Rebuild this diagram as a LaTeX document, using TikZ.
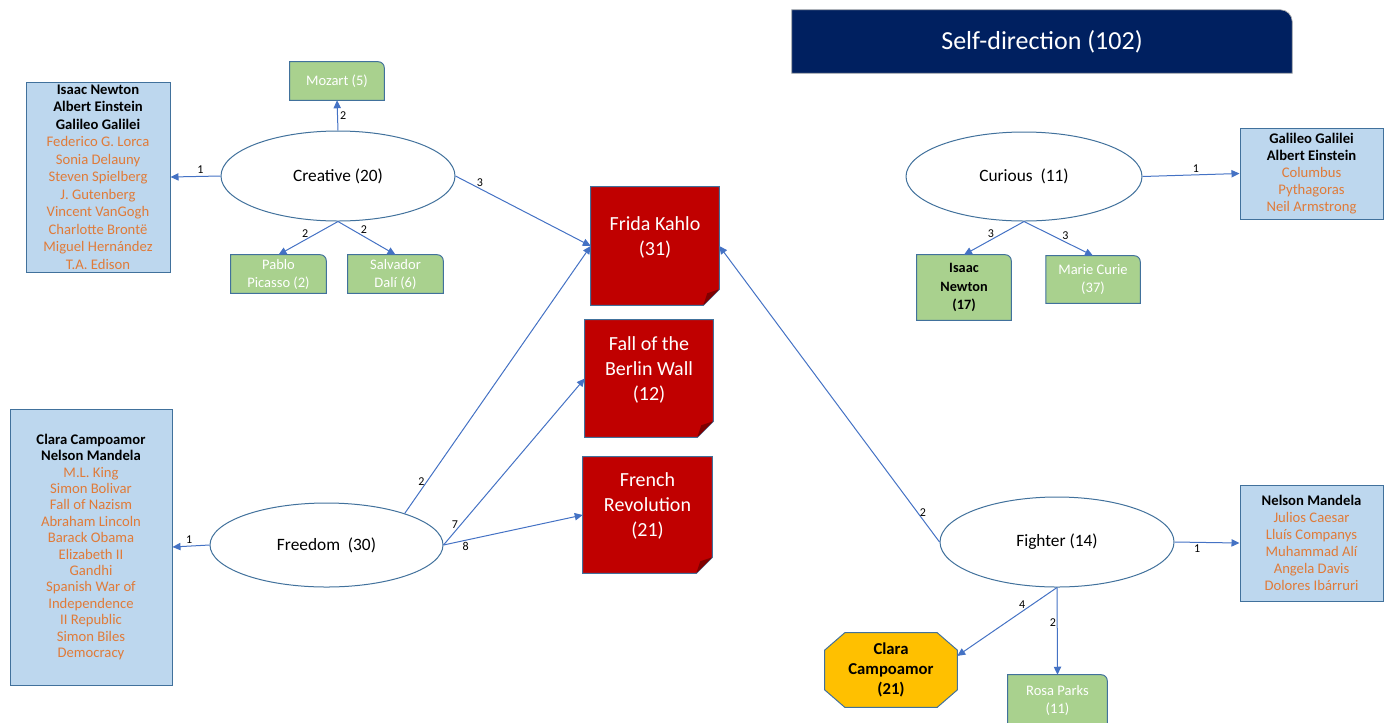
\documentclass[tikz,border=0pt]{standalone}
\usepackage{fontspec}
\setmainfont{Carlito}
\usetikzlibrary{arrows.meta,shapes.geometric,backgrounds}
\definecolor{titlenavy}{HTML}{002060}
\definecolor{listfill}{HTML}{BDD7EE}
\definecolor{edgeblue}{HTML}{41719C}
\definecolor{lineblue}{HTML}{4472C4}
\definecolor{listorange}{HTML}{E07B39}
\definecolor{leafgreen}{HTML}{A9D18E}
\definecolor{eventred}{HTML}{C00000}
\definecolor{foldred}{HTML}{7F0000}
\definecolor{octgold}{HTML}{FFC000}
\newcommand{\boldname}[1]{\textcolor{black}{\textbf{#1}}}

\begin{document}
\begin{tikzpicture}[x=0.75pt, y=-0.75pt]
	\tikzstyle{every node}=[font=\fontsize{11}{13.1}\selectfont]
	\tikzstyle{trait}=[ellipse, draw=edgeblue, line width=0.75pt, fill=white, inner sep=0pt, font=\fontsize{13}{15}\selectfont]
	\tikzstyle{namelist}=[rectangle, draw=edgeblue, line width=0.75pt, fill=listfill, inner sep=0pt, align=center, text=listorange]
	\tikzstyle{leaf}=[rectangle, inner sep=0pt, align=center, text=white, font=\fontsize{10.9}{13.5}\selectfont]
	\tikzstyle{event}=[rectangle, inner sep=0pt, align=center, text=white, font=\fontsize{15}{18.75}\selectfont]
	\tikzstyle{link}=[draw=lineblue, line width=0.75pt, ->, >={Triangle[length=6pt,width=5.5pt]}]
	\tikzstyle{weight}=[font=\fontsize{9}{10}\selectfont, inner sep=1.5pt]
	\useasboundingbox (0,0) rectangle (1387,722);

	\node [rectangle, inner sep=0pt, minimum width=375pt, minimum height=47.25pt, text=white, font=\fontsize{19.5}{22}\selectfont] (tit) at (1042,41.5) {Self-direction (102)};

	\node [trait, minimum width=175.5pt, minimum height=67.5pt] (cre) at (338,176) {Creative (20)};
	\node [trait, minimum width=177pt, minimum height=66.75pt] (cur) at (1024,176.5) {Curious\ \ (11)};
	\node [trait, minimum width=174.75pt, minimum height=63pt] (fre) at (326.5,545) {Freedom\ \ (30)};
	\node [trait, minimum width=175.5pt, minimum height=67.5pt] (fig) at (1057,542) {Fighter (14)};

	\node [namelist, minimum width=108pt, minimum height=142.5pt] (crelist) at (98,177) {\boldname{Isaac Newton}\\ \boldname{Albert Einstein}\\ \boldname{Galileo Galilei}\\ Federico G. Lorca\\ Sonia Delauny\\ Steven Spielberg\\ J. Gutenberg\\ Vincent VanGogh\\ Charlotte Brontë\\ Miguel Hernández\\ T.A. Edison};
	\node [namelist, minimum width=121.5pt, minimum height=207pt, font=\fontsize{11}{12.3}\selectfont] (frelist) at (91,547) {\boldname{Clara Campoamor}\\ \boldname{Nelson Mandela}\\ M.L. King\\ Simon Bolivar\\ Fall of Nazism\\ Abraham Lincoln\\ Barack Obama\\ Elizabeth II\\ Gandhi\\ Spanish War of\\ Independence\\ II Republic\\ Simon Biles\\ Democracy};
	\node [namelist, minimum width=107.25pt, minimum height=68.25pt, font=\fontsize{11}{12.75}\selectfont] (curlist) at (1311.5,173.5) {\boldname{Galileo Galilei}\\ \boldname{Albert Einstein}\\ Columbus\\ Pythagoras\\ Neil Armstrong};
	\node [namelist, minimum width=107.25pt, minimum height=87pt, font=\fontsize{11}{12.75}\selectfont] (figlist) at (1311.5,543) {\boldname{Nelson Mandela}\\ Julios Caesar\\ Lluís Companys\\ Muhammad Alí\\ Angela Davis\\ Dolores Ibárruri};

	\node [leaf, minimum width=70.5pt, minimum height=28.5pt] (moz) at (337,81) {Mozart (5)};
	\node [leaf, minimum width=71.25pt, minimum height=28.5pt] (pic) at (278.5,274) {Pablo\\Picasso (2)};
	\node [leaf, minimum width=71.25pt, minimum height=28.5pt] (dal) at (395.5,274) {Salvador\\Dalí (6)};
	\node [leaf, minimum width=70.5pt, minimum height=48.75pt, text=black, font=\bfseries\fontsize{10.7}{13.75}\selectfont] (isa) at (964,287.5) {Isaac\\Newton\\(17)};
	\node [leaf, minimum width=70.5pt, minimum height=35.25pt] (mar) at (1093,279.5) {Marie Curie\\(37)};
	\node [leaf, minimum width=74.25pt, minimum height=37.5pt] (ros) at (1057.5,700) {Rosa Parks\\(11)};

	\node [event, minimum width=96pt, minimum height=88.5pt] (fri) at (655,246) {Frida Kahlo\\(31)\\[-3.75pt]\mbox{}};
	\node [event, minimum width=96pt, minimum height=87.75pt] (ber) at (649,378.5) {Fall of the\\Berlin Wall\\(12)\\[-3.75pt]\mbox{}};
	\node [event, minimum width=96.75pt, minimum height=87pt] (frr) at (647.5,515) {French\\Revolution\\(21)\\[-3.75pt]\mbox{}};

	\node [rectangle, inner sep=0pt, minimum width=99pt, minimum height=55.5pt, align=center, font=\bfseries\fontsize{12.5}{15}\selectfont] (cla) at (891,670) {Clara\\Campoamor\\(21)};

	\begin{scope}[on background layer]
		\filldraw [fill=titlenavy, draw=gray!60, line width=0.5pt] (tit.south west) -- (tit.north west) -- ([xshift=-9pt]tit.north east) arc[start angle=90, end angle=0, radius=9pt] -- (tit.south east) -- cycle;
		\foreach \n in {moz,pic,dal,isa,mar,ros}
			\filldraw [fill=leafgreen, draw=edgeblue, line width=0.75pt] (\n.south west) -- (\n.north west) -- ([xshift=-4.5pt]\n.north east) arc[start angle=90, end angle=0, radius=4.5pt] -- (\n.south east) -- cycle;
		\foreach \n in {fri,ber,frr} {
			\filldraw [fill=eventred, draw=edgeblue, line width=0.75pt] (\n.south west) -- (\n.north west) -- (\n.north east) -- ([yshift=12pt]\n.south east) -- ([xshift=-12pt]\n.south east) -- cycle;
			\fill [foldred] ([yshift=12pt]\n.south east) -- ([xshift=-12pt]\n.south east) -- ([xshift=-9pt,yshift=9pt]\n.south east) -- cycle;
		}
		\filldraw [fill=octgold, draw=edgeblue, line width=0.75pt] ([xshift=15pt]cla.north west) -- ([xshift=-15pt]cla.north east) -- ([yshift=-13pt]cla.north east) -- ([yshift=13pt]cla.south east) -- ([xshift=-15pt]cla.south east) -- ([xshift=15pt]cla.south west) -- ([yshift=13pt]cla.south west) -- ([yshift=-13pt]cla.north west) -- cycle;
	\end{scope}

	\draw [link] (cre.north) -- (moz.south) node [weight, pos=0.5, right] {2};
	\draw [link] (cre.south) -- (pic.north) node [weight, pos=0.55, above] {2};
	\draw [link] (cre.south) -- (dal.north) node [weight, pos=0.45, above] {2};
	\draw [link] (cre.west) -- (crelist.east) node [weight, pos=0.4, above] {1};
	\draw [link] (cre.east) -- (fri.west) node [weight, pos=0.18, above] {3};
	\draw [link] (fre.west) -- (frelist.east) node [weight, pos=0.55, above] {1};
	\draw [link] (fre.22) -- (fri.west) node [weight, pos=0.12, left] {2};
	\draw [link] (fre.east) -- (ber.west) node [weight, pos=0.12, left] {7};
	\draw [link] (fre.east) -- (frr.west) node [weight, pos=0.16, below] {8};
	\draw [link] (cur.east) -- (curlist.west) node [weight, pos=0.55, above] {1};
	\draw [link] (cur.south) -- (isa.north) node [weight, pos=0.55, above] {3};
	\draw [link] (cur.south) -- (mar.north) node [weight, pos=0.6, above] {3};
	\draw [link] (fig.west) -- (fri.east) node [weight, pos=0.1, right] {2};
	\draw [link] (fig.east) -- (figlist.west) node [weight, pos=0.35, below] {1};
	\draw [link] (fig.south) -- (cla.12) node [weight, pos=0.35, above] {4};
	\draw [link] (fig.south) -- (ros.north) node [weight, pos=0.4, left, inner sep=0.5pt] {2};
\end{tikzpicture}
\end{document}
